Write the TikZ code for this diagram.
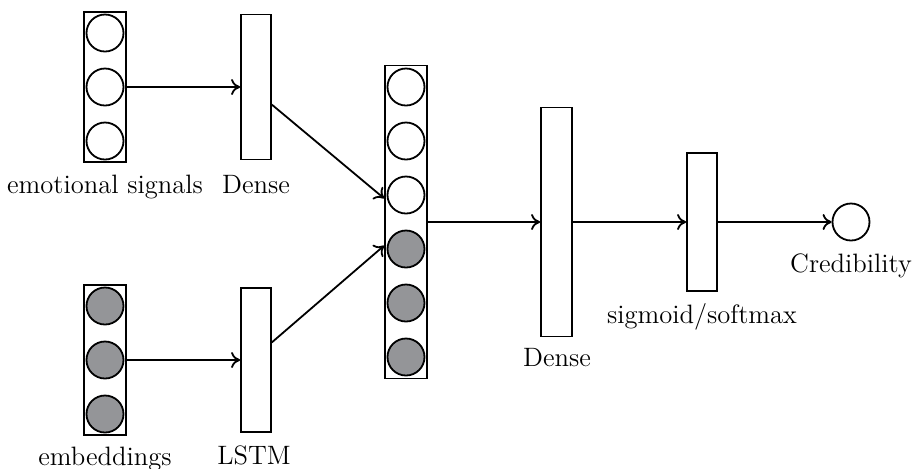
\documentclass[tikz,border=0pt]{standalone}
\usetikzlibrary{arrows.meta}
\definecolor{unitgray}{RGB}{148,149,152}
\begin{document}
\begin{tikzpicture}[x=0.5pt,y=-0.5pt,
  line width=0.9pt,
  every node/.style={font=\fontsize{13.3}{15.5}\selectfont},
  stackbox/.style={draw,rectangle,minimum width=21pt,inner sep=0pt},
  layerbox/.style={draw,rectangle,minimum width=15pt,inner sep=0pt},
  unit/.style={draw,circle,minimum size=18.5pt,inner sep=0pt},
  grayunit/.style={unit,fill=unitgray},
  caption/.style={anchor=base,inner sep=0pt},
  conn/.style={-{To[length=4.5pt,width=8pt]}}]
\useasboundingbox (0,0) rectangle (912,468);

% emotional-signal input vector
\node[stackbox,minimum height=75pt] (es) at (105,87) {};
\node[unit] (e1) at (105,33) {};
\node[unit] (e2) at (105,87) {};
\node[unit] (e3) at (105,141) {};
\node[caption] (esl) at (105,193) {emotional signals};

% embedding input vector
\node[stackbox,minimum height=75pt] (em) at (105,360) {};
\node[grayunit] (m1) at (105,306) {};
\node[grayunit] (m2) at (105,360) {};
\node[grayunit] (m3) at (105,414) {};
\node[caption] (eml) at (105,465) {embeddings};

% first-stage layers
\node[layerbox,minimum height=72.5pt] (d1) at (256,87) {};
\node[caption] (d1l) at (256,193) {Dense};
\node[layerbox,minimum height=72pt] (ls) at (256,360) {};
\node[caption] (lsl) at (254,464) {LSTM};

% concatenated vector
\node[stackbox,minimum height=156.5pt] (cc) at (406,222) {};
\node[unit] (c1) at (406,87) {};
\node[unit] (c2) at (406,141) {};
\node[unit] (c3) at (406,195) {};
\node[grayunit] (c4) at (406,249) {};
\node[grayunit] (c5) at (406,303) {};
\node[grayunit] (c6) at (406,357) {};

% output layers
\node[layerbox,minimum width=15.5pt,minimum height=114.5pt] (d2) at (556.5,222) {};
\node[caption] (d2l) at (557,366) {Dense};
\node[layerbox,minimum height=69pt] (sg) at (702,222) {};
\node[caption] (sgl) at (702,323) {sigmoid/softmax};
\node[unit] (out) at (851,222) {};
\node[caption] (outl) at (851,272) {Credibility};

% connections
\draw[conn] (es.east |- e2) -- (d1);
\draw[conn] (em.east |- m2) -- (ls);
\draw[conn] (d1.-48) -- (cc.west |- c3.190);
\draw[conn] (ls.48) -- (cc.west |- c4.170);
\draw[conn] (cc) -- (d2);
\draw[conn] (d2) -- (sg);
\draw[conn] (sg) -- (out);
\end{tikzpicture}
\end{document}
